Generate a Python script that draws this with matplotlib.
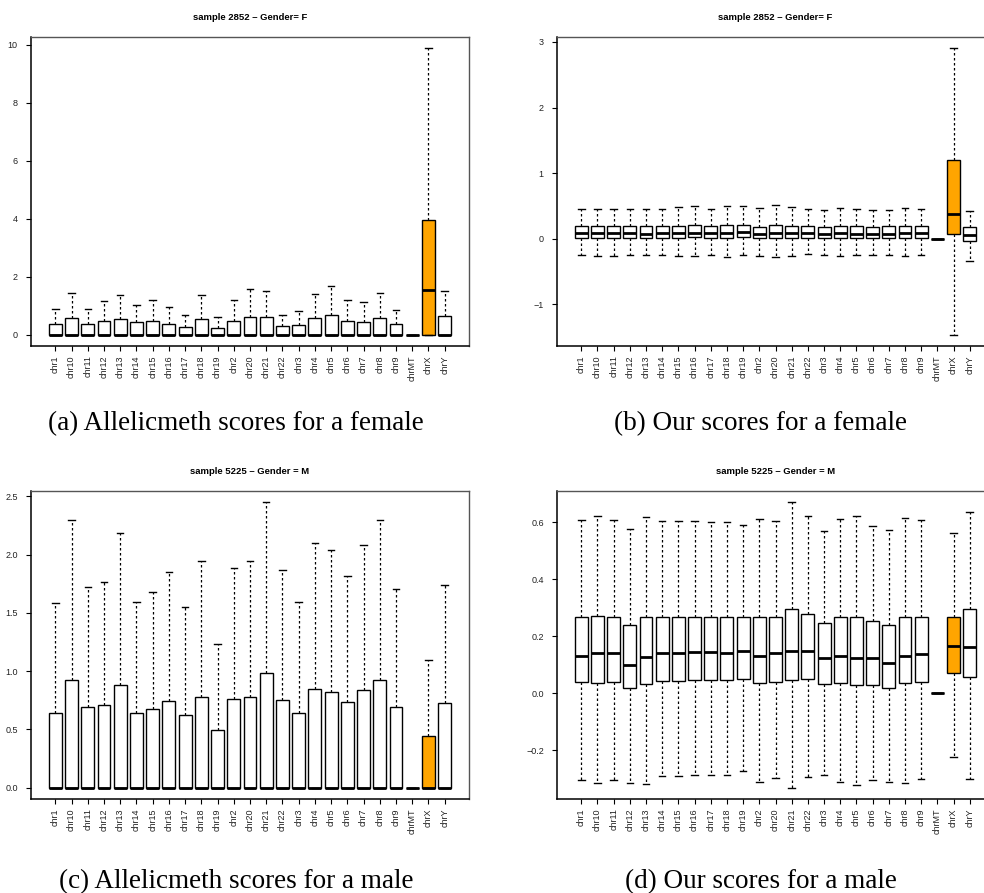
import matplotlib

matplotlib.use("Agg")
from matplotlib import pyplot as plt

W, H = 984, 893

chroms = ["chr1", "chr10", "chr11", "chr12", "chr13", "chr14", "chr15", "chr16", "chr17",
          "chr18", "chr19", "chr2", "chr20", "chr21", "chr22", "chr3", "chr4", "chr5",
          "chr6", "chr7", "chr8", "chr9", "chrMT", "chrX", "chrY"]
highlight = "chrX"

# (a) Allelicmeth, female
a_whislo = [0.0] * 25
a_q1 = [0.0] * 25
a_med = [0.0] * 23 + [1.55, 0.0]
a_q3 = [0.36, 0.57, 0.36, 0.47, 0.55, 0.42, 0.47, 0.38, 0.27, 0.55, 0.23, 0.47, 0.62,
        0.61, 0.28, 0.33, 0.57, 0.66, 0.47, 0.45, 0.57, 0.35, 0.0, 3.94, 0.65]
a_whishi = [0.89, 1.42, 0.89, 1.16, 1.37, 1.03, 1.19, 0.96, 0.66, 1.37, 0.59, 1.20, 1.58,
            1.51, 0.69, 0.82, 1.41, 1.66, 1.18, 1.12, 1.42, 0.85, 0.0, 9.87, 1.51]

# (b) our scores, female
b_whislo = [-0.255, -0.26, -0.26, -0.255, -0.255, -0.25, -0.265, -0.265, -0.245, -0.28,
            -0.255, -0.26, -0.285, -0.27, -0.24, -0.255, -0.26, -0.255, -0.255, -0.245,
            -0.26, -0.245, 0.0, -1.46, -0.34]
b_q1 = [0.01, 0.01, 0.01, 0.01, 0.01, 0.01, 0.015, 0.02, 0.01, 0.01, 0.025, 0.005, 0.015,
        0.015, 0.015, 0.005, 0.01, 0.01, 0.005, 0.01, 0.01, 0.015, 0.0, 0.066, -0.036]
b_med = [0.08, 0.08, 0.08, 0.08, 0.075, 0.08, 0.09, 0.095, 0.08, 0.09, 0.11, 0.075, 0.09,
         0.085, 0.085, 0.07, 0.08, 0.075, 0.07, 0.075, 0.08, 0.085, 0.0, 0.38, 0.056]
b_q3 = [0.19, 0.19, 0.19, 0.19, 0.19, 0.19, 0.20, 0.21, 0.19, 0.21, 0.215, 0.185, 0.215,
        0.20, 0.19, 0.185, 0.19, 0.19, 0.185, 0.19, 0.19, 0.19, 0.0, 1.20, 0.18]
b_whishi = [0.46, 0.46, 0.46, 0.46, 0.46, 0.46, 0.485, 0.495, 0.46, 0.505, 0.50, 0.465,
            0.51, 0.49, 0.455, 0.445, 0.47, 0.46, 0.445, 0.445, 0.47, 0.46, 0.0, 2.90, 0.43]

# (c) Allelicmeth, male
c_whislo = [0.0] * 25
c_q1 = [0.0] * 25
c_med = [0.0] * 25
c_q3 = [0.637, 0.92, 0.689, 0.709, 0.877, 0.637, 0.671, 0.746, 0.623, 0.78, 0.494, 0.757,
        0.78, 0.98, 0.749, 0.64, 0.843, 0.817, 0.731, 0.834, 0.923, 0.689, 0.0, 0.443, 0.726]
c_whishi = [1.586, 2.294, 1.72, 1.766, 2.189, 1.591, 1.677, 1.851, 1.551, 1.949, 1.237,
            1.889, 1.949, 2.449, 1.866, 1.597, 2.10, 2.04, 1.82, 2.08, 2.297, 1.709, 0.0,
            1.097, 1.743]

# (d) our scores, male
d_whislo = [-0.305, -0.315, -0.305, -0.315, -0.318, -0.292, -0.293, -0.287, -0.289, -0.286,
            -0.275, -0.313, -0.299, -0.332, -0.296, -0.286, -0.313, -0.323, -0.304, -0.313,
            -0.315, -0.302, 0.0, -0.224, -0.301]
d_q1 = [0.0375, 0.034, 0.0375, 0.0176, 0.032, 0.043, 0.042, 0.047, 0.0445, 0.0445, 0.049,
        0.034, 0.040, 0.0445, 0.048, 0.033, 0.034, 0.030, 0.030, 0.019, 0.034, 0.039, 0.0,
        0.069, 0.056]
d_med = [0.132, 0.141, 0.141, 0.0996, 0.127, 0.141, 0.141, 0.144, 0.143, 0.141, 0.148,
         0.130, 0.141, 0.148, 0.148, 0.125, 0.131, 0.125, 0.123, 0.107, 0.131, 0.137, 0.0,
         0.164, 0.162]
d_q3 = [0.266, 0.270, 0.266, 0.241, 0.266, 0.266, 0.266, 0.268, 0.266, 0.266, 0.266, 0.266,
        0.266, 0.294, 0.278, 0.247, 0.266, 0.266, 0.254, 0.241, 0.266, 0.266, 0.0, 0.266,
        0.294]
d_whishi = [0.608, 0.622, 0.609, 0.575, 0.618, 0.604, 0.604, 0.604, 0.600, 0.600, 0.592,
            0.613, 0.606, 0.670, 0.621, 0.568, 0.613, 0.621, 0.588, 0.573, 0.616, 0.608, 0.0,
            0.563, 0.635]

panels = [
    ("sample 2852 \u2013 Gender= F", (a_whislo, a_q1, a_med, a_q3, a_whishi),
     [0, 2, 4, 6, 8, 10], "{:g}", (31, 37, 469, 346)),
    ("sample 2852 \u2013 Gender= F", (b_whislo, b_q1, b_med, b_q3, b_whishi),
     [-1, 0, 1, 2, 3], "{:g}", (557, 37, 994, 346)),
    ("sample 5225 \u2013 Gender = M", (c_whislo, c_q1, c_med, c_q3, c_whishi),
     [0.0, 0.5, 1.0, 1.5, 2.0, 2.5], "{:.1f}", (31, 491, 469, 799)),
    ("sample 5225 \u2013 Gender = M", (d_whislo, d_q1, d_med, d_q3, d_whishi),
     [-0.2, 0.0, 0.2, 0.4, 0.6], "{:.1f}", (557, 491, 994, 799)),
]

captions = [
    ("(a) Allelicmeth scores for a female", 236, 430),
    ("(b) Our scores for a female", 761, 430),
    ("(c) Allelicmeth scores for a male", 236, 888),
    ("(d) Our scores for a male", 761, 888),
]

sans = ["Liberation Sans", "DejaVu Sans"]
fig = plt.figure(figsize=(W / 100, H / 100), dpi=100)

for title, cols, yticks, fmt, (x0, y0, x1, y1) in panels:
    ax = fig.add_axes([x0 / W, 1 - y1 / H, (x1 - x0) / W, (y1 - y0) / H])
    whislo, q1, med, q3, whishi = cols
    stats = [dict(label=c, whislo=lo, q1=a, med=m, q3=b, whishi=hi, fliers=[])
             for c, lo, a, m, b, hi in zip(chroms, whislo, q1, med, q3, whishi)]
    res = ax.bxp(stats, positions=range(1, len(chroms) + 1), widths=0.8,
                 patch_artist=True, showfliers=False,
                 boxprops=dict(facecolor="white", edgecolor="black", linewidth=1.0),
                 medianprops=dict(color="black", linewidth=2.0, solid_capstyle="butt"),
                 whiskerprops=dict(color="black", linewidth=0.9, linestyle=(0, (2, 2))),
                 capprops=dict(color="black", linewidth=1.0))
    for box, c in zip(res["boxes"], chroms):
        if c == highlight:
            box.set_facecolor("#FFA500")

    lo, hi = min(whislo), max(whishi)
    pad = (hi - lo) * 0.04
    ax.set_ylim(lo - pad, hi + pad)
    ax.set_xlim(-0.5, len(chroms) + 1.5)
    ax.set_yticks(yticks)
    ax.set_yticklabels([fmt.format(t).replace("-", "\u2212") for t in yticks],
                       family=sans, fontsize=6.5, color="#222222")
    ax.set_xticks(range(1, len(chroms) + 1))
    ax.set_xticklabels(chroms, rotation=90, family=sans, fontsize=6.5, color="#222222")
    ax.tick_params(axis="both", length=3.5, width=0.8, direction="out", pad=3)
    ax.tick_params(axis="y", pad=6)
    for side in ("top", "right"):
        ax.spines[side].set_color("#555555")
        ax.spines[side].set_linewidth(1.0)
    for side in ("left", "bottom"):
        ax.spines[side].set_color("black")
        ax.spines[side].set_linewidth(1.1)

    fig.text(((x0 + x1) / 2) / W, 1 - (y0 - 19) / H, title, ha="center", va="center",
             family=sans, fontsize=6.8, fontweight="bold")

for text, cx, base in captions:
    fig.text(cx / W, 1 - base / H, text, ha="center", va="baseline",
             family=["Liberation Serif", "DejaVu Serif"], fontsize=19.5)

fig.savefig("out.png", dpi=100)
